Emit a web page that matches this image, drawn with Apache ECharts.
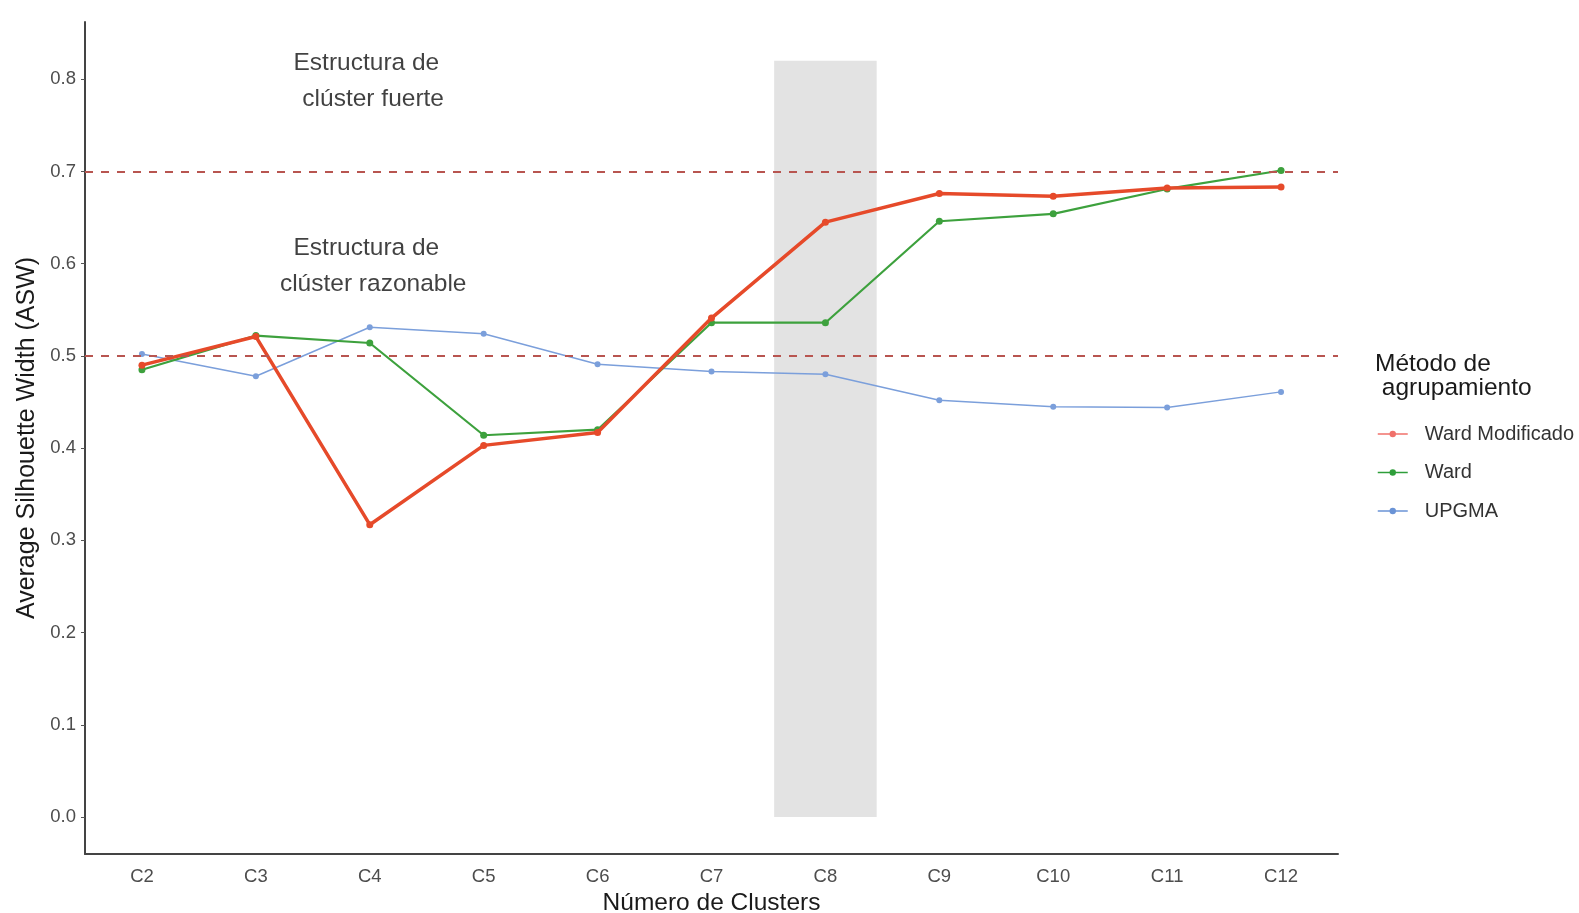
<!DOCTYPE html>
<html>
<head>
<meta charset="utf-8">
<script src="https://cdn.jsdelivr.net/npm/echarts@6/dist/echarts.min.js"></script>
<style>
  html, body { margin: 0; padding: 0; background: #fff; }
  #chart { width: 1579px; height: 913px; }
</style>
</head>
<body>
<div id="chart"></div>
<script>
// Number of clusters on the x axis
const categories = ['C2', 'C3', 'C4', 'C5', 'C6', 'C7', 'C8', 'C9', 'C10', 'C11', 'C12'];

// Average silhouette width per clustering method
const wardModificado = [0.490, 0.521, 0.317, 0.403, 0.417, 0.541, 0.645, 0.676, 0.673, 0.682, 0.683];
const ward           = [0.485, 0.522, 0.514, 0.414, 0.420, 0.536, 0.536, 0.646, 0.654, 0.681, 0.701];
const upgma          = [0.502, 0.478, 0.531, 0.524, 0.491, 0.483, 0.480, 0.452, 0.445, 0.444, 0.461];

// Y tick values
const yTicks = [0.0, 0.1, 0.2, 0.3, 0.4, 0.5, 0.6, 0.7, 0.8];

// Reference thresholds (dashed lines)
const thresholds = [0.5, 0.7];

// Highlighted cluster count: shaded band from 0 to its top value
const highlight = [['C8', 0, 0.82]];

// Zone annotations: [category, value, text]
const annotations = [
  ['C4', 0.798, 'Estructura de \n clúster fuerte'],
  ['C4', 0.597, 'Estructura de \n clúster razonable']
];

const colors = { wardMod: '#E64A2A', ward: '#3DA13D', upgma: '#7B9FDB' };
const legendColors = { wardMod: '#F0706A', ward: '#2E9E3A', upgma: '#6A93D6' };

const chart = echarts.init(document.getElementById('chart'));

const textColor = '#4d4d4d';
const font = 'Liberation Sans, Arial, sans-serif';

chart.setOption({
  animation: false,
  backgroundColor: '#ffffff',
  textStyle: { fontFamily: font },
  grid: { left: 85, right: 241, top: 22, bottom: 59, containLabel: false, outerBoundsMode: 'none' },
  xAxis: {
    type: 'category',
    data: categories,
    boundaryGap: true,
    name: 'Número de Clusters',
    nameLocation: 'middle',
    nameGap: 37,
    nameTextStyle: { fontSize: 24.5, color: '#1a1a1a', fontFamily: font },
    axisLine: { onZero: false, lineStyle: { color: '#444', width: 2 } },
    axisTick: { alignWithLabel: true, length: 4, lineStyle: { color: '#555' } },
    axisLabel: { fontSize: 18.5, color: textColor, margin: 13, fontFamily: font },
    splitLine: { show: false }
  },
  yAxis: {
    type: 'value',
    min: -0.040,
    max: 0.862,
    name: 'Average Silhouette Width (ASW)',
    nameLocation: 'middle',
    nameGap: 39,
    nameTextStyle: { fontSize: 25, color: '#1a1a1a', fontFamily: font },
    axisLine: { show: true, onZero: false, lineStyle: { color: '#444', width: 2 } },
    axisTick: { show: true, length: 4, customValues: yTicks, lineStyle: { color: '#555' } },
    axisLabel: {
      fontSize: 18.5, color: textColor, margin: 9, fontFamily: font,
      customValues: yTicks,
      formatter: v => v.toFixed(1)
    },
    splitLine: { show: false }
  },
  legend: {
    orient: 'vertical',
    left: 1372,
    top: 419,
    itemWidth: 30,
    itemHeight: 8,
    itemGap: 18.5,
    textStyle: { fontSize: 20, lineHeight: 20, color: '#333', fontFamily: font, padding: [0, 0, 0, 12] },
    data: [
      { name: 'Ward Modificado', itemStyle: { color: legendColors.wardMod }, lineStyle: { color: legendColors.wardMod, width: 1.5 } },
      { name: 'Ward', itemStyle: { color: legendColors.ward }, lineStyle: { color: legendColors.ward, width: 1.5 } },
      { name: 'UPGMA', itemStyle: { color: legendColors.upgma }, lineStyle: { color: legendColors.upgma, width: 1.5 } }
    ]
  },
  graphic: [{
    type: 'text',
    left: 1375,
    top: 352,
    style: {
      text: 'Método de\n agrupamiento',
      fontSize: 24.5,
      lineHeight: 24,
      fill: '#1a1a1a',
      fontFamily: font
    }
  }],
  series: [
    {
      type: 'custom',
      name: 'band',
      z: 0,
      silent: true,
      data: highlight,
      renderItem: (params, api) => {
        const bottom = api.coord([api.value(0), api.value(1)]);
        const top = api.coord([api.value(0), api.value(2)]);
        const bw = api.size([1, 0])[0] * 0.9;
        return {
          type: 'rect',
          shape: { x: bottom[0] - bw / 2, y: top[1], width: bw, height: bottom[1] - top[1] },
          style: { fill: '#e3e3e3' }
        };
      }
    },
    {
      type: 'line',
      name: 'thresholds',
      data: [],
      z: 1,
      silent: true,
      markLine: {
        silent: true,
        symbol: 'none',
        label: { show: false },
        lineStyle: { color: '#b85550', type: [8, 8], width: 1.8 },
        data: thresholds.map(t => ({ yAxis: t }))
      }
    },
    {
      type: 'line',
      name: 'UPGMA',
      data: upgma,
      z: 2,
      symbol: 'circle',
      symbolSize: 6,
      color: colors.upgma,
      lineStyle: { width: 1.5, color: colors.upgma },
      itemStyle: { color: colors.upgma }
    },
    {
      type: 'line',
      name: 'Ward',
      data: ward,
      z: 3,
      symbol: 'circle',
      symbolSize: 7,
      color: colors.ward,
      lineStyle: { width: 2.2, color: colors.ward },
      itemStyle: { color: colors.ward }
    },
    {
      type: 'line',
      name: 'Ward Modificado',
      data: wardModificado,
      z: 4,
      symbol: 'circle',
      symbolSize: 7,
      color: colors.wardMod,
      lineStyle: { width: 3.5, color: colors.wardMod },
      itemStyle: { color: colors.wardMod }
    },
    {
      type: 'scatter',
      name: 'annotations',
      silent: true,
      symbolSize: 0,
      z: 5,
      data: annotations.map(a => ({ value: [a[0], a[1]], text: a[2] })),
      label: {
        show: true,
        position: 'inside',
        formatter: p => p.data.text,
        fontSize: 24.5,
        lineHeight: 36,
        color: '#111',
        fontFamily: font,
        align: 'center'
      }
    }
  ]
});
</script>
</body>
</html>
